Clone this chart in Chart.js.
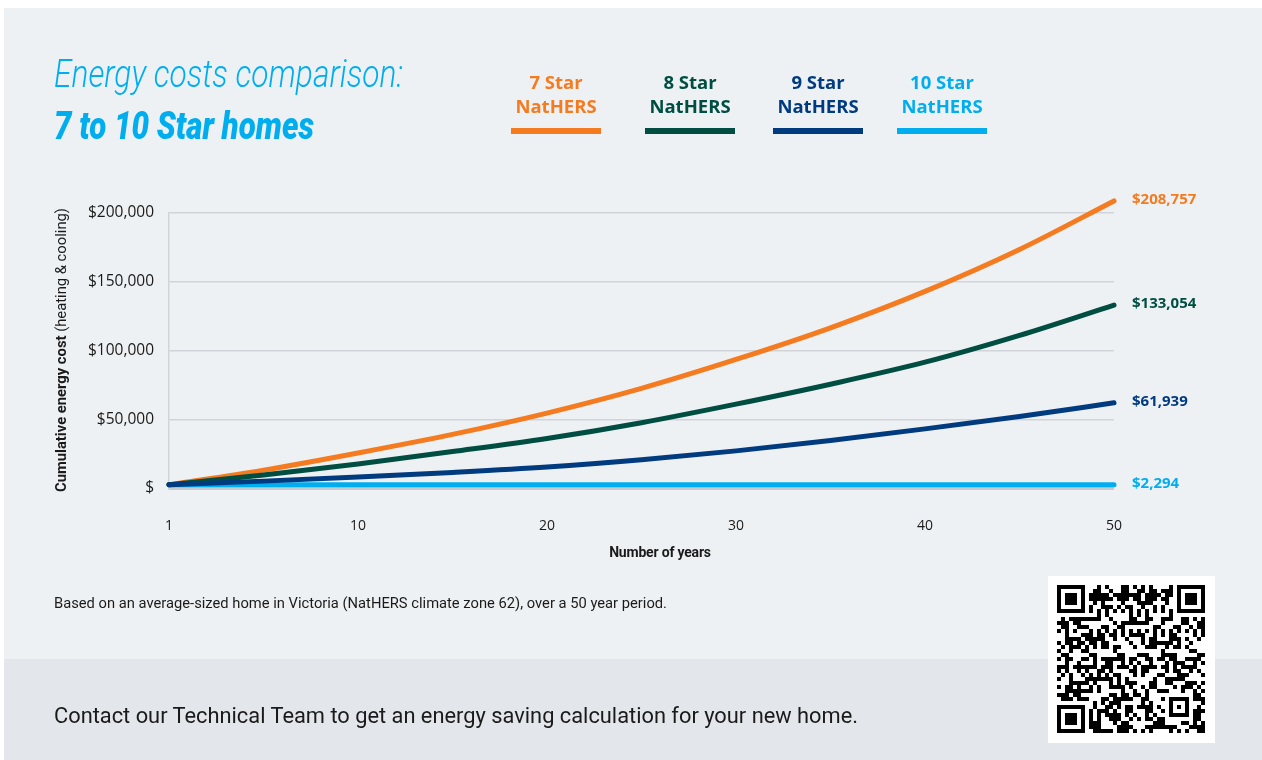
<!DOCTYPE html>
<html>
<head>
<meta charset="utf-8">
<title>Energy costs comparison</title>
<script src="https://cdn.jsdelivr.net/npm/chart.js@4.4.1/dist/chart.umd.min.js"></script>
<style>
html, body{ margin:0; padding:0; background:#ffffff; }
body{ width:1262px; height:760px; position:relative; overflow:hidden; font-family:Roboto, "Open Sans", sans-serif; color:#1a1a1a; }
#panel{ position:absolute; left:4px; top:8px; width:1258px; height:752px; background:#eef1f4; }
#strip{ position:absolute; left:4px; top:659px; width:1258px; height:101px; background:#e3e7eb; }
#chart{ position:absolute; left:0; top:0; }
.fit{ position:absolute; white-space:nowrap; transform-origin:0 50%; }
#title1{ left:54px; top:55px; font:italic 300 38px/38px Roboto; color:#00aeef; }
#title2{ left:54px; top:107px; font:italic 900 38px/38px Roboto; color:#00aeef; }
#xTitle{ position:absolute; left:510px; width:300px; top:545px; text-align:center; font:700 14px/14px Roboto; letter-spacing:-0.2px; }
#footnote{ left:54px; top:596px; font:400 14px/14px Roboto; }
#contact{ left:54px; top:705px; font:400 22px/22px Roboto; }
.legendItem{ position:absolute; top:70px; width:90px; text-align:center; font:700 18.5px/24px "Open Sans", sans-serif; }
.legendItem .bar{ width:90px; height:6px; margin-top:10px; }
#qr{ position:absolute; left:1048px; top:576px; }
</style>
</head>
<body>
<div id="panel"></div>
<div id="strip"></div>
<canvas id="chart" width="1262" height="760"></canvas>
<div id="title1" class="fit">Energy costs comparison:</div>
<div id="title2" class="fit">7 to 10 Star homes</div>
<div id="legend"></div>
<div id="xTitle">Number of years</div>
<div id="footnote" class="fit">Based on an average-sized home in Victoria (NatHERS climate zone 62), over a 50 year period.</div>
<div id="contact" class="fit">Contact our Technical Team to get an energy saving calculation for your new home.</div>
<canvas id="qr" width="167" height="167"></canvas>
<script>
/****
data
*****/
const yearsX       = [0, 5, 10, 15, 20, 25, 30, 35, 40, 45, 50];
const star7        = [2300, 13000, 25500, 39000, 54500, 72500, 93500, 116500, 143000, 173500, 208757];
const star8        = [2300, 9500, 17500, 26500, 36000, 47500, 61000, 75500, 91500, 111000, 133054];
const star9        = [2300, 5000, 8000, 11300, 15200, 20500, 27000, 34500, 43000, 52000, 61939];
const star10       = [2294, 2294, 2294, 2294, 2294, 2294, 2294, 2294, 2294, 2294, 2294];
const seriesNames  = ['7 Star', '8 Star', '9 Star', '10 Star'];
const seriesColors = ['#f47b20', '#004e42', '#003b80', '#00aeef'];
const xTickValues  = [0, 10, 20, 30, 40, 50];
const xTickLabels  = ['1', '10', '20', '30', '40', '50'];
const yTickValues  = [0, 50000, 100000, 150000, 200000];
const yTitleBold   = 'Cumulative energy cost';
const yTitleRest   = ' (heating & cooling)';

const seriesValues = [star7, star8, star9, star10];
const drawOrder    = [2, 1, 0, 3]; // 9 Star on top, 10 Star at the bottom
const legendLeft   = [511, 645, 773, 897];

/******
helpers
*******/
const fitWidth = (id, target)=>{
    let el = document.getElementById(id);
    let w  = el.getBoundingClientRect().width;
    el.style.transform = `scaleX(${target / w})`;
};

const money = (v)=>{
    return '$' + v.toLocaleString('en-US');
};

/*****
legend
******/
const makeLegend = ()=>{
    let box = document.getElementById('legend');
    for(let i = 0; i < seriesNames.length; i++){
        let item = document.createElement('div');
        item.className  = 'legendItem';
        item.style.left = legendLeft[i] + 'px';
        item.style.color = seriesColors[i];
        item.innerHTML = `<div>${seriesNames[i]}</div><div>NatHERS</div><div class="bar" style="background:${seriesColors[i]}"></div>`;
        box.appendChild(item);
    };
};

/******
plugins
*******/
const yTitlePlugin = {
    id: 'yTitle',
    afterDraw(chart){
        let c = chart.ctx;
        c.save();
        c.translate(62, 350);
        c.rotate(-Math.PI / 2);
        c.font = '700 14px Roboto';
        let w1 = c.measureText(yTitleBold).width;
        c.font = '400 14px Roboto';
        let w2 = c.measureText(yTitleRest).width;
        c.scale(284 / (w1 + w2), 1);
        let x = -(w1 + w2) / 2;
        c.textBaseline = 'middle';
        c.textAlign    = 'left';
        c.fillStyle    = '#1a1a1a';
        c.font = '700 14px Roboto';
        c.fillText(yTitleBold, x, 0);
        c.font = '400 14px Roboto';
        c.fillText(yTitleRest, x + w1, 0);
        c.restore();
    }
};

const endLabelPlugin = {
    id: 'endLabels',
    afterDatasetsDraw(chart){
        let c    = chart.ctx;
        let yAx  = chart.scales.y;
        let left = chart.chartArea.right + 18;
        c.save();
        c.font = '700 15px "Open Sans"';
        c.textAlign    = 'left';
        c.textBaseline = 'middle';
        for(let i = 0; i < seriesValues.length; i++){
            let vals = seriesValues[i];
            let last = vals[vals.length - 1];
            c.fillStyle = seriesColors[i];
            c.fillText(money(last), left, yAx.getPixelForValue(last) - 1);
        };
        c.restore();
    }
};

/****
chart
*****/
const makeChart = ()=>{
    let datasets = [];
    for(let i = 0; i < seriesValues.length; i++){
        datasets.push({
            label: seriesNames[i],
            data: yearsX.map((x, k)=>({x: x, y: seriesValues[i][k]})),
            borderColor: seriesColors[i],
            backgroundColor: seriesColors[i],
            borderWidth: 5,
            borderCapStyle: 'round',
            pointRadius: 0,
            cubicInterpolationMode: 'monotone',
            clip: false,
            order: drawOrder[i]
        });
    };
    let ctx = document.getElementById('chart').getContext('2d');
    new Chart(ctx, {
        type: 'line',
        data: { datasets: datasets },
        plugins: [yTitlePlugin, endLabelPlugin],
        options: {
            responsive: false,
            animation: false,
            layout: { padding: { left: 0, right: 148, top: 213, bottom: 222 } },
            plugins: { legend: { display: false }, tooltip: { enabled: false } },
            scales: {
                x: {
                    type: 'linear',
                    min: 0,
                    max: 50,
                    afterBuildTicks: (scale)=>{ scale.ticks = xTickValues.map(v=>({value: v})); },
                    afterFit: (scale)=>{ scale.height = 50; },
                    grid: { display: false },
                    border: { display: false },
                    ticks: {
                        padding: 22,
                        maxRotation: 0,
                        color: '#1a1a1a',
                        font: { family: 'Open Sans', size: 14 },
                        callback: (v)=>xTickLabels[xTickValues.indexOf(v)]
                    }
                },
                y: {
                    min: 0,
                    max: 200000,
                    afterBuildTicks: (scale)=>{ scale.ticks = yTickValues.map(v=>({value: v})); },
                    afterFit: (scale)=>{ scale.width = 169; },
                    grid: {
                        drawTicks: false,
                        color: (c)=> c.tick && c.tick.value === 0 ? '#c6cbd0' : '#d0d4d9',
                        lineWidth: (c)=> c.tick && c.tick.value === 0 ? 3 : 1.5
                    },
                    border: { display: true, color: '#d0d4d9', width: 1.5 },
                    ticks: {
                        padding: 15,
                        color: '#1a1a1a',
                        font: { family: 'Open Sans', size: 15.5 },
                        callback: (v)=> v === 0 ? '$' : money(v)
                    }
                }
            }
        }
    });
};

/******
QR code (decoration)
*******/
const makeQR = ()=>{
    let c = document.getElementById('qr').getContext('2d');
    let n = 37, m = 4, off = 9;
    c.fillStyle = '#ffffff';
    c.fillRect(0, 0, 167, 167);
    let grid = [];
    for(let y = 0; y < n; y++){
        grid.push([]);
        for(let x = 0; x < n; x++){
            let h = ((x * 73856093) ^ (y * 19349663) ^ (x * y * 83492791)) >>> 0;
            grid[y].push(((h >>> 7) ^ (h >>> 3)) & 1);
        };
    };
    let square = (x0, y0, size)=>{
        for(let y = -1; y <= size; y++){
            for(let x = -1; x <= size; x++){
                let gx = x0 + x, gy = y0 + y;
                if(gx < 0 || gy < 0 || gx >= n || gy >= n){ continue; };
                let ring = Math.max(Math.abs(x - (size - 1) / 2), Math.abs(y - (size - 1) / 2));
                let outer = (size - 1) / 2;
                grid[gy][gx] = (ring > outer) ? 0 : (ring === outer || ring <= outer - 2) ? 1 : 0;
            };
        };
    };
    for(let i = 8; i < n - 8; i++){ grid[6][i] = (i + 1) % 2; grid[i][6] = (i + 1) % 2; };
    square(0, 0, 7);
    square(n - 7, 0, 7);
    square(0, n - 7, 7);
    square(n - 9, n - 9, 5);
    c.fillStyle = '#000000';
    for(let y = 0; y < n; y++){
        for(let x = 0; x < n; x++){
            if(grid[y][x]){ c.fillRect(off + x * m, off + y * m, m, m); };
        };
    };
};

/*************
INITIALIZATION
**************/
makeLegend();
fitWidth('title1', 349);
fitWidth('title2', 260);
fitWidth('footnote', 613);
fitWidth('contact', 804);
makeChart();
makeQR();
</script>
</body>
</html>
